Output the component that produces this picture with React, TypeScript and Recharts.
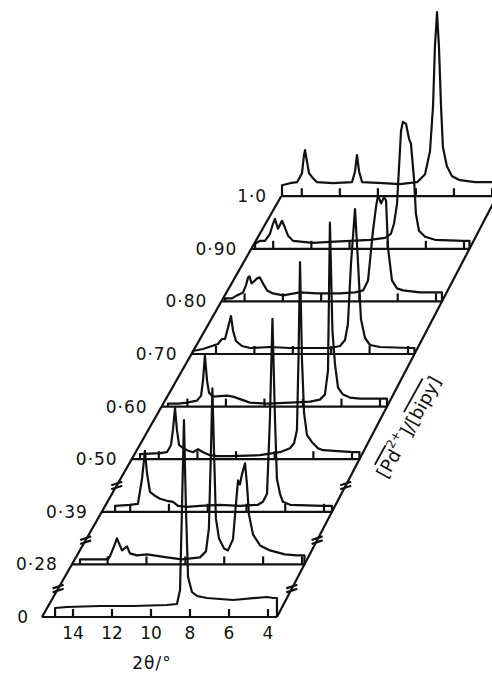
import React from 'react';
import { ComposedChart, Line, Scatter, XAxis, YAxis, ReferenceLine } from 'recharts';

type Pt = [number, number]; // [2θ (°), intensity (arb.)]

const RATIOS = ['0', '0·28', '0·39', '0·50', '0·60', '0·70', '0·80', '0·90', '1·0'];
const TWO_THETA_TICKS = [14, 12, 10, 8, 6, 4];

const TRACE_0: Pt[] = [[14.92,0],[14.92,9],[14.31,10],[12.62,11],[10.92,11],[9.18,12],[8.67,13],[8.51,27],[8.41,110],[8.31,197],[8.21,110],[8.10,40],[7.90,25],[7.64,21],[7.13,19],[5.79,17],[4.05,20],[3.74,19]];
const TRACE_028: Pt[] = [[15.42,0],[15.42,5],[13.98,5],[13.88,8],[13.67,18],[13.52,26],[13.26,14],[13.00,18],[12.85,11],[12.49,9],[11.97,10],[10.95,7],[10.17,5],[9.25,7],[8.94,13],[8.79,36],[8.68,116],[8.61,176],[8.53,116],[8.43,46],[8.27,26],[8.01,16],[7.81,14],[7.55,25],[7.40,60],[7.29,84],[7.19,80],[7.09,90],[6.93,101],[6.83,80],[6.73,50],[6.52,30],[6.16,19],[5.65,14],[4.88,10],[4.26,9],[4.10,9]];
const TRACE_039: Pt[] = [[14.78,0],[14.78,6],[14.01,7],[13.60,8],[13.39,33],[13.24,61],[13.13,38],[12.98,20],[12.72,16],[12.46,13],[12.10,11],[11.79,10],[11.53,6],[11.07,5],[10.40,6],[9.37,7],[8.33,6],[7.41,7],[7.15,10],[6.94,18],[6.79,93],[6.66,193],[6.53,93],[6.43,33],[6.27,18],[6.12,10],[5.75,7],[4.05,6]];
const TRACE_050: Pt[] = [[14.97,0],[14.97,5],[13.94,6],[13.58,7],[13.37,14],[13.27,29],[13.16,51],[13.06,29],[12.95,14],[12.80,12],[12.54,9],[12.23,7],[11.97,10],[11.71,7],[11.35,4],[10.99,3],[10.31,3],[8.76,4],[7.73,7],[7.21,11],[7.00,16],[6.85,29],[6.77,100],[6.69,197],[6.59,100],[6.48,46],[6.33,24],[6.07,17],[5.76,11],[5.50,9],[3.95,7]];
const TRACE_060: Pt[] = [[15.01,0],[15.01,3],[14.49,3],[14.02,4],[13.50,6],[13.29,11],[13.19,26],[13.09,51],[12.98,26],[12.88,14],[12.67,10],[11.94,11],[11.63,10],[10.75,4],[9.87,3],[8.67,4],[7.63,5],[7.12,7],[6.86,12],[6.70,36],[6.60,184],[6.47,76],[6.34,43],[6.18,19],[5.92,12],[5.56,9],[5.04,8],[4.00,8]];
const TRACE_070: Pt[] = [[15.20,0],[15.20,3],[14.68,5],[14.21,8],[13.90,10],[13.69,15],[13.53,15],[13.38,26],[13.22,38],[13.11,23],[12.96,13],[12.65,8],[12.23,6],[11.19,7],[10.15,6],[9.10,6],[8.06,6],[7.54,8],[7.28,14],[7.13,30],[6.97,90],[6.76,145],[6.60,90],[6.45,35],[6.24,16],[5.98,9],[5.46,7],[3.90,6]];
const TRACE_080: Pt[] = [[15.02,0],[15.02,3],[14.66,3],[14.40,6],[14.08,9],[13.93,16],[13.82,24],[13.74,25],[13.64,18],[13.51,20],[13.35,23],[13.20,24],[13.04,18],[12.83,11],[12.52,8],[11.99,6],[11.11,9],[10.22,8],[9.02,8],[8.23,9],[7.81,11],[7.55,21],[7.29,71],[7.13,95],[7.03,106],[6.87,98],[6.72,104],[6.61,101],[6.51,54],[6.30,21],[6.04,13],[5.72,11],[4.84,9],[3.79,9]];
const TRACE_090: Pt[] = [[14.95,0],[14.95,5],[14.69,8],[14.43,8],[14.17,15],[14.01,25],[13.91,30],[13.75,20],[13.54,28],[13.38,21],[13.22,13],[12.96,8],[12.44,7],[11.91,6],[11.02,7],[9.97,8],[8.93,9],[8.14,11],[7.83,15],[7.67,25],[7.51,45],[7.41,80],[7.30,118],[7.20,127],[7.04,125],[6.88,110],[6.78,105],[6.62,70],[6.52,35],[6.36,18],[6.04,12],[5.52,9],[4.05,8]];
const TRACE_100: Pt[] = [[15.04,0],[15.04,11],[14.62,13],[14.25,14],[13.99,23],[13.89,40],[13.83,46],[13.73,35],[13.62,23],[13.46,19],[13.20,14],[12.36,13],[11.36,14],[11.20,25],[11.10,41],[10.99,25],[10.83,14],[9.73,13],[8.84,12],[7.94,14],[7.52,22],[7.26,45],[7.10,90],[7.00,150],[6.89,184],[6.79,150],[6.68,90],[6.58,49],[6.37,30],[6.10,20],[5.68,16],[4.89,14],[4.00,14]];

const TRACES: Pt[][] = [TRACE_0, TRACE_028, TRACE_039, TRACE_050, TRACE_060, TRACE_070, TRACE_080, TRACE_090, TRACE_100];

// oblique (waterfall) projection parameters
const PX_PER_DEG = 19.5;
const SCALE_SHRINK = 0.06;
const TRACE_SHIFT_PX = [0, 34, 56, 84, 112, 140, 168, 196, 224];
const STEP = 52.6;
const LEFT_EDGE = 15.59;
const LEFT_EDGE_SHIFT = 29.9;
const RIGHT_EDGE = 3.54;
const RIGHT_EDGE_SHIFT = 27.5;
const TICK_LEN = 8;
const BREAKS = [0.54, 1.46, 2.5];

const toU = (t: number, k: number) =>
  4 + ((t - 4) * (PX_PER_DEG - SCALE_SHRINK * k) - TRACE_SHIFT_PX[k]) / PX_PER_DEG;
const baseV = (k: number) => STEP * k;
const leftU = (k: number) => LEFT_EDGE - (LEFT_EDGE_SHIFT * k) / PX_PER_DEG;
const rightU = (k: number) => RIGHT_EDGE - (RIGHT_EDGE_SHIFT * k) / PX_PER_DEG;

const traceData = (k: number) => {
  const pts = TRACES[k].map(([t, I]) => ({ u: toU(t, k), v: I + baseV(k) }));
  const lastI = TRACES[k][TRACES[k].length - 1][1];
  pts.push({ u: rightU(k), v: lastI + baseV(k) });
  pts.push({ u: rightU(k), v: baseV(k) });
  return pts;
};

const FONT = '"DejaVu Sans", sans-serif';
const INK = '#111';
const STROKE = 2.2;

const leftLabels = RATIOS.map((text, k) => ({ u: leftU(k) + 14 / PX_PER_DEG, v: baseV(k), text, anchor: 'end' }));
const bottomLabels = TWO_THETA_TICKS.map((t) => ({ u: t, v: -16, text: String(t), anchor: 'middle' }));
const axisTitle = [{ u: 9.95, v: -46, text: '2θ/°', anchor: 'middle' }];
const sideTitle = [{ u: -3.2, v: 190 }];

const TextShape = (props: any) => {
  const { cx, cy, payload } = props;
  return (
    <text x={cx} y={cy} textAnchor={payload.anchor} dominantBaseline="central"
      fontFamily={FONT} fontSize={17} letterSpacing={payload.text.length > 2 ? 1 : 0} fill={INK}>
      {payload.text}
    </text>
  );
};

const SideShape = (props: any) => {
  const { cx, cy } = props;
  return (
    <text x={cx} y={cy} transform={`rotate(-61 ${cx} ${cy})`} textAnchor="middle"
      dominantBaseline="central" fontFamily={FONT} fontSize={18} fill={INK}>
      [<tspan style={{ textDecoration: 'overline' }}>Pd</tspan>
      <tspan dy={-7} fontSize={12}>2+</tspan>
      <tspan dy={7}>]/[</tspan>
      <tspan style={{ textDecoration: 'overline' }}>bipy</tspan>]
    </text>
  );
};

export default function App() {
  const lineProps = { stroke: INK, strokeWidth: STROKE, ifOverflow: 'visible' as const };
  const refs: React.ReactNode[] = [];
  TRACES.forEach((_, k) => {
    refs.push(
      <ReferenceLine key={`b${k}`} segment={[{ x: leftU(k), y: baseV(k) }, { x: rightU(k), y: baseV(k) }]} {...lineProps} />
    );
    TWO_THETA_TICKS.forEach((t) => {
      const u = toU(t, k);
      refs.push(
        <ReferenceLine key={`t${k}-${t}`} segment={[{ x: u, y: baseV(k) }, { x: u, y: baseV(k) + TICK_LEN }]} {...lineProps} />
      );
    });
  });
  refs.push(<ReferenceLine key="el" segment={[{ x: leftU(0), y: 0 }, { x: leftU(8), y: baseV(8) }]} {...lineProps} />);
  refs.push(<ReferenceLine key="er" segment={[{ x: rightU(0), y: 0 }, { x: rightU(8.3), y: baseV(8.3) }]} {...lineProps} />);
  const du = 5.5 / PX_PER_DEG;
  BREAKS.forEach((kb, i) => {
    [leftU(kb), rightU(kb)].forEach((ue, j) => {
      [-2, 2].forEach((off, m) => {
        const ve = baseV(kb) + off;
        refs.push(
          <ReferenceLine key={`br${i}-${j}-${m}`} segment={[{ x: ue + du, y: ve - 1.8 }, { x: ue - du, y: ve + 1.8 }]} {...lineProps} />
        );
      });
    });
  });

  return (
    <div style={{ position: 'absolute', left: 0, top: 0, width: 492, height: 673, overflow: 'hidden', background: '#fff' }}>
      <ComposedChart width={545} height={673} margin={{ top: 0, right: 4, left: 14.5, bottom: 0 }}>
        <XAxis type="number" dataKey="u" domain={[-10, 17]} reversed hide allowDataOverflow />
        <YAxis type="number" dataKey="v" domain={[-56, 617]} hide allowDataOverflow />
        {refs}
        {TRACES.map((_, k) => (
          <Line key={`l${k}`} data={traceData(k)} dataKey="v" type="linear" dot={false} activeDot={false}
            stroke={INK} strokeWidth={STROKE} strokeLinejoin="round" isAnimationActive={false} />
        ))}
        <Scatter data={leftLabels} shape={TextShape} isAnimationActive={false} />
        <Scatter data={bottomLabels} shape={TextShape} isAnimationActive={false} />
        <Scatter data={axisTitle} shape={TextShape} isAnimationActive={false} />
        <Scatter data={sideTitle} shape={SideShape} isAnimationActive={false} />
      </ComposedChart>
    </div>
  );
}
